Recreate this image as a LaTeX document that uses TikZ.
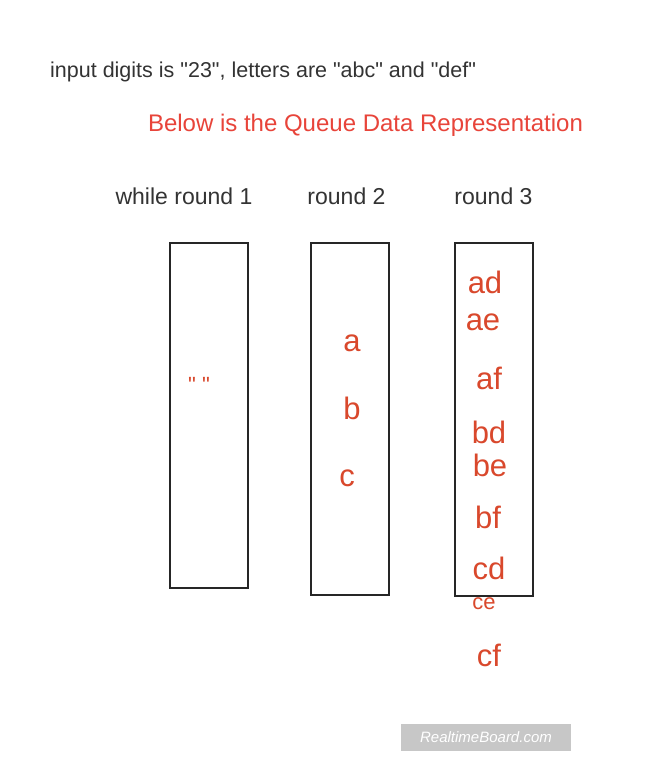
\documentclass[tikz,border=0pt]{standalone}
\usepackage{fontspec}
\setmainfont{Liberation Sans}
\usepackage{tikz}
\usetikzlibrary{positioning}
\definecolor{inkred}{HTML}{D9482C}
\definecolor{titlered}{HTML}{E8443A}
\definecolor{textgray}{HTML}{333333}
\tikzset{
  plaintext/.style={text=textgray, inner sep=0pt, font=\fontsize{23}{27}\selectfont},
  introtext/.style={plaintext, font=\fontsize{21.5}{25}\selectfont},
  titletext/.style={text=titlered, inner sep=0pt, font=\fontsize{24}{28}\selectfont},
  queuebox/.style={rectangle, draw=black!85, line width=2pt, inner sep=0pt, minimum width=78pt},
  inktext/.style={text=inkred, inner sep=0pt, font=\fontsize{31}{34}\selectfont},
  marktext/.style={rectangle, fill=black!22, text=white, inner sep=0pt,
                   minimum width=170pt, minimum height=27pt, font=\fontsize{15}{18}\selectfont\itshape},
}
\begin{document}
\begin{tikzpicture}[x=1pt,y=-1pt]
    \useasboundingbox[fill=white] (0,0) rectangle (666,780);
    \node[introtext, anchor=west] (intro) at (50,72) {input digits is \textquotedbl 23\textquotedbl, letters are \textquotedbl abc\textquotedbl\ and \textquotedbl def\textquotedbl};
    \node[titletext] (title) at (365.5,125) {Below is the Queue Data Representation};
    % round headers
    \node[plaintext] (r1) at (184,196) {while round 1};
    \node[plaintext] (r2) at (346.5,196) {round 2};
    \node[plaintext] (r3) at (493.5,196) {round 3};
    % queues
    \node[queuebox, minimum height=345pt] (q1) at (208.5,415.5) {};
    \node[queuebox, minimum height=352pt] (q2) at (350,419) {};
    \node[queuebox, minimum height=353pt] (q3) at (493.5,419.5) {};
    % round 1 contents
    \node[inktext, font=\fontsize{22}{24}\selectfont] (empty) at (199,385) {\textquotedbl\ \textquotedbl};
    % round 2 contents
    \node[inktext] (a) at (352,343) {a};
    \node[inktext] (b) at (352,408) {b};
    \node[inktext] (c) at (347,478) {c};
    % round 3 contents
    \node[inktext] (ad) at (485,282) {ad};
    \node[inktext] (ae) at (483,322) {ae};
    \node[inktext] (af) at (489,378) {af};
    \node[inktext] (bd) at (489,432) {bd};
    \node[inktext] (be) at (490,465) {be};
    \node[inktext] (bf) at (488,517) {bf};
    \node[inktext] (cd) at (489,568) {cd};
    \node[inktext, font=\fontsize{22}{24}\selectfont] (ce) at (484,604) {ce};
    \node[inktext] (cf) at (489,655) {cf};
    % watermark
    \node[marktext] (mark) at (486,737.5) {RealtimeBoard.com};
\end{tikzpicture}
\end{document}
